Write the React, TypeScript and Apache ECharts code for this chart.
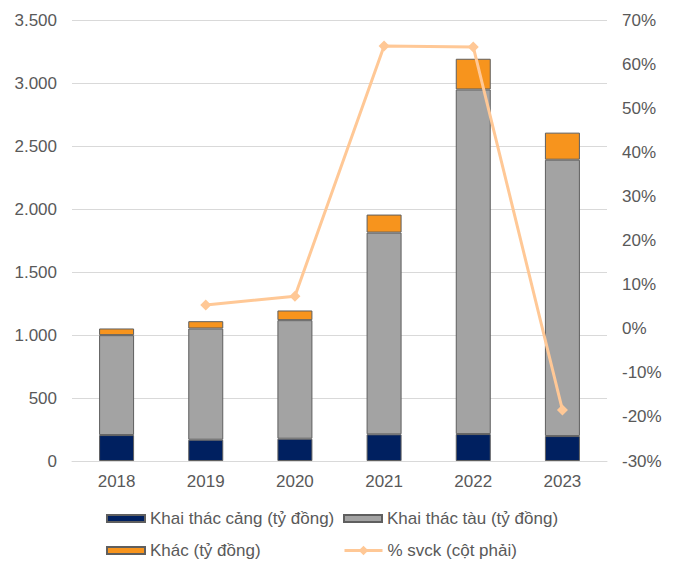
import React, { useEffect, useRef } from "react";
import * as echarts from "echarts";

const categories = ["2018", "2019", "2020", "2021", "2022", "2023"];
const khaiThacCang = [206, 169, 177, 212, 214, 198];
const khaiThacTau = [794, 884, 942, 1603, 2738, 2196];
const khac = [53, 58, 77, 143, 244, 215];
const svck: (number | null)[] = [null, 5.4, 7.4, 64.2, 64.0, -18.4];

const FONT = "'Liberation Sans', Arial, sans-serif";
const TXT = "#595959";

export default function App() {
  const ref = useRef<HTMLDivElement>(null);
  useEffect(() => {
    if (!ref.current) return;
    const chart = echarts.init(ref.current, undefined, { renderer: "svg" });
    const barStyle = (color: string) => ({
      color,
      borderColor: "#5f5f5f",
      borderWidth: 1,
    });
    const legendText = { fontFamily: FONT, fontSize: 17, color: TXT };
    const mkLegend = (name: string, left: number, top: number, extra: any = {}) => ({
      orient: "horizontal",
      left,
      top,
      itemWidth: 38,
      itemHeight: 7,
      itemGap: 0,
      padding: 0,
      textStyle: legendText,
      data: [name],
      ...extra,
    });
    chart.setOption({
      animation: false,
      textStyle: { fontFamily: FONT },
      grid: { left: 72, right: 71, top: 20.5, bottom: 101, containLabel: false },
      legend: [
        mkLegend("Khai thác cảng (tỷ đồng)", 106, 510, { icon: "rect" }),
        mkLegend("Khai thác tàu (tỷ đồng)", 343, 510, { icon: "rect" }),
        mkLegend("Khác (tỷ đồng)", 106, 542, { icon: "rect" }),
        mkLegend("% svck (cột phải)", 343, 542, { itemHeight: 12, lineStyle: { width: 3 } }),
      ],
      xAxis: {
        type: "category",
        data: categories,
        axisTick: { show: false },
        axisLine: { show: true, lineStyle: { color: "#D9D9D9", width: 1 } },
        axisLabel: { color: TXT, fontSize: 17, margin: 12, fontFamily: FONT },
      },
      yAxis: [
        {
          type: "value",
          min: 0,
          max: 3500,
          interval: 500,
          axisLine: { show: false },
          axisTick: { show: false },
          splitLine: { lineStyle: { color: "#D9D9D9", width: 1 } },
          axisLabel: {
            color: TXT,
            fontSize: 17,
            margin: 15,
            fontFamily: FONT,
            formatter: (v: number) => v.toString().replace(/\B(?=(\d{3})+(?!\d))/g, "."),
          },
        },
        {
          type: "value",
          min: -30,
          max: 70,
          interval: 10,
          axisLine: { show: false },
          axisTick: { show: false },
          splitLine: { show: false },
          axisLabel: {
            color: TXT,
            fontSize: 17,
            margin: 15,
            fontFamily: FONT,
            formatter: (v: number) => `${Math.round(v)}%`,
          },
        },
      ],
      series: [
        {
          name: "Khai thác cảng (tỷ đồng)",
          type: "bar",
          stack: "total",
          barWidth: 35,
          data: khaiThacCang,
          itemStyle: barStyle("#002060"),
        },
        {
          name: "Khai thác tàu (tỷ đồng)",
          type: "bar",
          stack: "total",
          barWidth: 35,
          data: khaiThacTau,
          itemStyle: barStyle("#A3A3A3"),
        },
        {
          name: "Khác (tỷ đồng)",
          type: "bar",
          stack: "total",
          barWidth: 35,
          data: khac,
          itemStyle: barStyle("#F7941D"),
        },
        {
          name: "% svck (cột phải)",
          type: "line",
          yAxisIndex: 1,
          data: svck,
          z: 10,
          symbol: "diamond",
          symbolSize: 11,
          lineStyle: { color: "#FFC896", width: 3 },
          itemStyle: { color: "#FFC896" },
        },
      ],
    });
    return () => chart.dispose();
  }, []);
  return (
    <div
      ref={ref}
      style={{ position: "absolute", left: 0, top: 0, width: 678, height: 562, background: "#fff" }}
    />
  );
}
